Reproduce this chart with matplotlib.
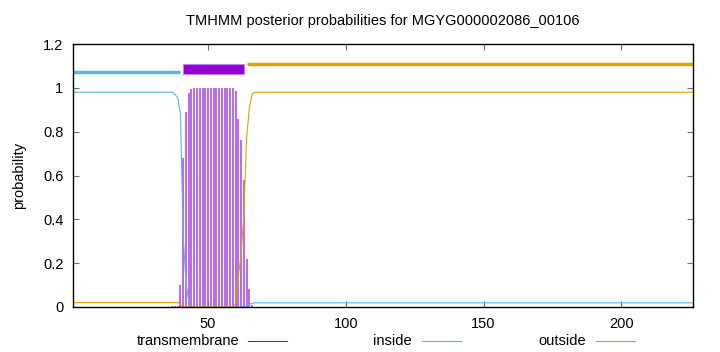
import matplotlib
matplotlib.use("Agg")
import matplotlib.pyplot as plt
from matplotlib.lines import Line2D

plt.rcParams['font.family'] = ['Liberation Sans', 'DejaVu Sans']

seq_len = 226
title = "TMHMM posterior probabilities for MGYG000002086_00106"

# topology bars on top: (start, end)
inside_seg = (1, 40)
tm_seg = (41, 63)
outside_seg = (64, 226)

# transmembrane posterior (impulses)
tm_pos = [37, 38, 39, 40, 41, 42, 43, 44, 45, 46, 47, 48, 49, 50, 51, 52,
          53, 54, 55, 56, 57, 58, 59, 60, 61, 62, 63, 64, 65, 66]
tm_val = [0.003, 0.004, 0.005, 0.10, 0.68, 0.89, 0.975, 0.995, 1.0, 1.0, 1.0, 1.0,
          1.0, 1.0, 1.0, 1.0, 1.0, 1.0, 1.0, 1.0, 1.0, 1.0, 0.997, 0.985,
          0.86, 0.76, 0.58, 0.22, 0.08, 0.01]

# inside / outside posterior curves (break points)
inside_pos = [1, 37, 38, 39, 40, 41, 42, 43, 44, 45, 62, 63, 64, 65, 66, 67, 226]
inside_val = [0.98, 0.98, 0.97, 0.955, 0.88, 0.32, 0.11, 0.025, 0.005, 0.0, 0.0,
              0.002, 0.008, 0.012, 0.017, 0.019, 0.019]
outside_pos = [1, 38, 39, 40, 41, 59, 60, 61, 62, 63, 64, 65, 66, 67, 226]
outside_val = [0.02, 0.02, 0.02, 0.01, 0.0, 0.0, 0.015, 0.14, 0.24, 0.42, 0.77,
               0.91, 0.97, 0.98, 0.98]

c_tm = '#9400d3'
c_in = '#56b4e9'
c_out = '#e69f00'

fig = plt.figure(figsize=(7.2, 3.52), dpi=100)
ax = fig.add_axes([73 / 720, 45 / 352, 620 / 720, 263 / 352])

ax.vlines(tm_pos, 0, tm_val, color='#a840dc', lw=1.1)
ax.plot(inside_pos, inside_val, color=c_in, lw=0.8)
ax.plot(outside_pos, outside_val, color=c_out, lw=0.8)

# topology line on top
ax.plot(inside_seg, [1.072, 1.072], color=c_in, lw=2.5, solid_capstyle='butt')
ax.plot(outside_seg, [1.11, 1.11], color=c_out, lw=2.5, solid_capstyle='butt')
ax.fill_between(tm_seg, 1.064, 1.11, facecolor=c_tm, edgecolor='#c080f0', lw=0.8)

ax.set_xlim(1, seq_len)
ax.set_ylim(0, 1.2)
ax.set_xticks([50, 100, 150, 200])
ax.set_yticks([0, 0.2, 0.4, 0.6, 0.8, 1.0, 1.2])
ax.set_yticklabels(['0', '0.2', '0.4', '0.6', '0.8', '1', '1.2'])
ax.tick_params(direction='in', length=4, top=True, right=True, color='#707070',
               labelsize=10.5, pad=7)
for s in ax.spines.values():
    s.set_linewidth(1.0)
ax.set_ylabel('probability', fontsize=10.5, labelpad=12)
ax.set_title(title, fontsize=10.5, pad=14)

# legend, gnuplot style: text then sample line
legend_items = [('transmembrane', c_tm, 239, 248), ('inside', c_in, 412, 422),
                ('outside', c_out, 586, 596)]
ly = 1 - 341 / 352
for label, col, tx, lx in legend_items:
    fig.text(tx / 720, ly, label, ha='right', va='center', fontsize=10.5)
    fig.add_artist(Line2D([lx / 720, (lx + 39) / 720], [ly, ly], color=col, lw=0.8))

fig.savefig('out.png', dpi=100)
